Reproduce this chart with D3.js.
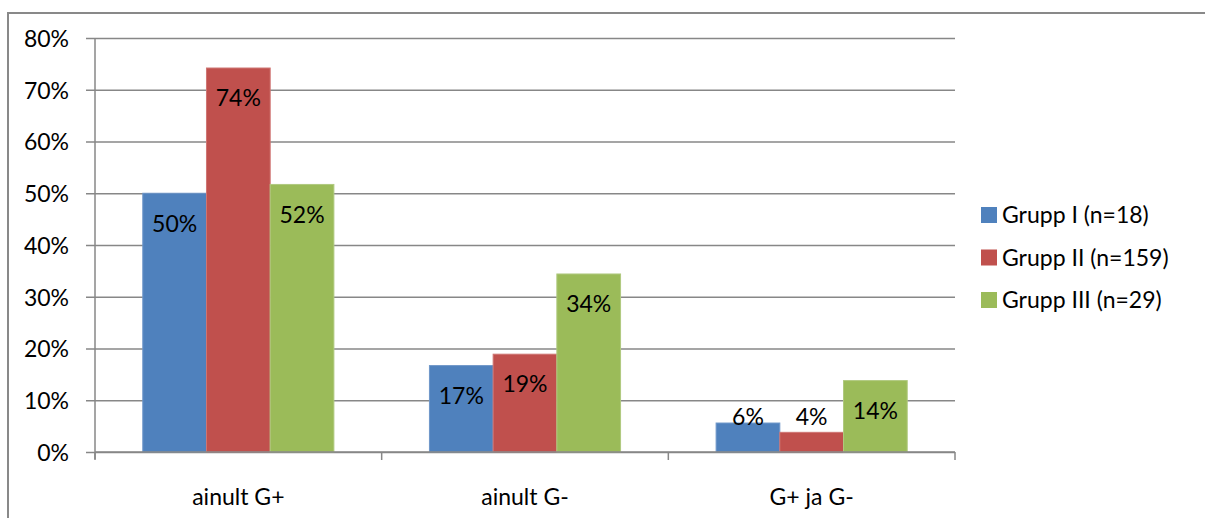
<!DOCTYPE html>
<html>
<head>
<meta charset="utf-8">
<script src="https://cdn.jsdelivr.net/npm/d3@7"></script>
<style>
  body { margin: 0; background: #fff; }
  text { font-family: Lato, "Open Sans", sans-serif; fill: #000; }
</style>
</head>
<body>
<svg id="chart" width="1205" height="518"></svg>
<script>
// chart data
const categories = ['ainult G+', 'ainult G-', 'G+ ja G-'];
const groups = ['Grupp I (n=18)', 'Grupp II (n=159)', 'Grupp III (n=29)'];
const grupp1 = [0.50, 0.167, 0.056];
const grupp2 = [0.742, 0.189, 0.038];
const grupp3 = [0.517, 0.344, 0.138];
const yTicks = [0, 0.1, 0.2, 0.3, 0.4, 0.5, 0.6, 0.7, 0.8];
const colors = ['#4F81BD', '#C0504D', '#9BBB59'];
const strokes = ['#6f97c9', '#cf7573', '#b0c97f'];

const seriesValues = [grupp1, grupp2, grupp3];

// plot area
const plotLeft = 95, plotRight = 955, plotTop = 38, plotBottom = 452;
const fontSize = 23;

let svg = d3.select('#chart');

// outer frame (right and bottom sides are cut off in the original)
svg.append('rect')
  .attr('x', 8).attr('y', 13)
  .attr('width', 1300).attr('height', 600)
  .attr('fill', 'none')
  .attr('stroke', '#898989')
  .attr('stroke-width', 2);

let yScale = d3.scaleLinear().domain([0, 0.8]).range([plotBottom, plotTop]);
let xScale = d3.scaleBand().domain(categories).range([plotLeft, plotRight]).padding(0);
let xInner = d3.scaleBand().domain(d3.range(groups.length))
  .range([0, xScale.bandwidth()])
  .paddingInner(0)
  .paddingOuter(0.75);

// y axis with gridlines
let yAxis = svg.append('g')
  .attr('class', 'y_axis')
  .attr('transform', 'translate(' + plotLeft + ',0)')
  .call(d3.axisLeft(yScale).tickValues(yTicks).tickFormat(d3.format('.0%')).tickSizeOuter(0));
yAxis.select('.domain').remove();
yAxis.selectAll('.tick line')
  .attr('x1', -9)
  .attr('x2', plotRight - plotLeft)
  .attr('stroke', '#878787')
  .attr('stroke-width', 1.5);
yAxis.selectAll('.tick text')
  .attr('x', -26)
  .attr('dy', '0.36em')
  .style('font-size', fontSize + 'px')
  .style('font-family', 'Lato, sans-serif')
  .attr('fill', '#000');

// vertical axis line
svg.append('line')
  .attr('x1', plotLeft).attr('x2', plotLeft)
  .attr('y1', plotTop).attr('y2', plotBottom + 7)
  .attr('stroke', '#878787').attr('stroke-width', 1.5);

// bars
categories.forEach(function (cat, ci) {
  seriesValues.forEach(function (vals, si) {
    svg.append('rect')
      .attr('x', xScale(cat) + xInner(si))
      .attr('y', yScale(vals[ci]))
      .attr('width', xInner.bandwidth())
      .attr('height', plotBottom - yScale(vals[ci]))
      .attr('fill', colors[si])
      .attr('stroke', strokes[si])
      .attr('stroke-width', 1);
  });
});

// x axis line and category ticks
svg.append('line')
  .attr('x1', plotLeft).attr('x2', plotRight)
  .attr('y1', plotBottom).attr('y2', plotBottom)
  .attr('stroke', '#878787').attr('stroke-width', 1.5);

let xAxis = svg.append('g')
  .attr('class', 'x_axis')
  .attr('transform', 'translate(0,' + plotBottom + ')')
  .call(d3.axisBottom(xScale).tickSize(0).tickSizeOuter(0));
xAxis.select('.domain').remove();
xAxis.selectAll('.tick text')
  .attr('y', 45)
  .attr('dy', '0.36em')
  .style('font-size', fontSize + 'px')
  .style('font-family', 'Lato, sans-serif')
  .attr('fill', '#000');

// boundaries between categories
let bounds = categories.map(c => xScale(c)).concat([plotRight]);
svg.selectAll('.catTick')
  .data(bounds)
  .enter().append('line')
  .attr('class', 'catTick')
  .attr('x1', d => d).attr('x2', d => d)
  .attr('y1', plotBottom).attr('y2', plotBottom + 8)
  .attr('stroke', '#878787').attr('stroke-width', 1.5);

// data labels, inside end (pushed up when the bar is too short)
categories.forEach(function (cat, ci) {
  seriesValues.forEach(function (vals, si) {
    let yTop = yScale(vals[ci]);
    let yLab = Math.min(yTop + 30, plotBottom - 35);
    svg.append('text')
      .attr('x', xScale(cat) + xInner(si) + xInner.bandwidth() / 2)
      .attr('y', yLab)
      .attr('dy', '0.36em')
      .attr('text-anchor', 'middle')
      .style('font-size', fontSize + 'px')
      .text(d3.format('.0%')(vals[ci]));
  });
});

// legend
let legend = svg.append('g').attr('class', 'legend');
groups.forEach(function (g, i) {
  let y = 215 + i * 42.5;
  legend.append('rect')
    .attr('x', 981).attr('y', y - 8)
    .attr('width', 16).attr('height', 16)
    .attr('fill', colors[i]);
  legend.append('text')
    .attr('x', 1002).attr('y', y)
    .attr('dy', '0.36em')
    .style('font-size', fontSize + 'px')
    .text(g);
});
</script>
</body>
</html>
